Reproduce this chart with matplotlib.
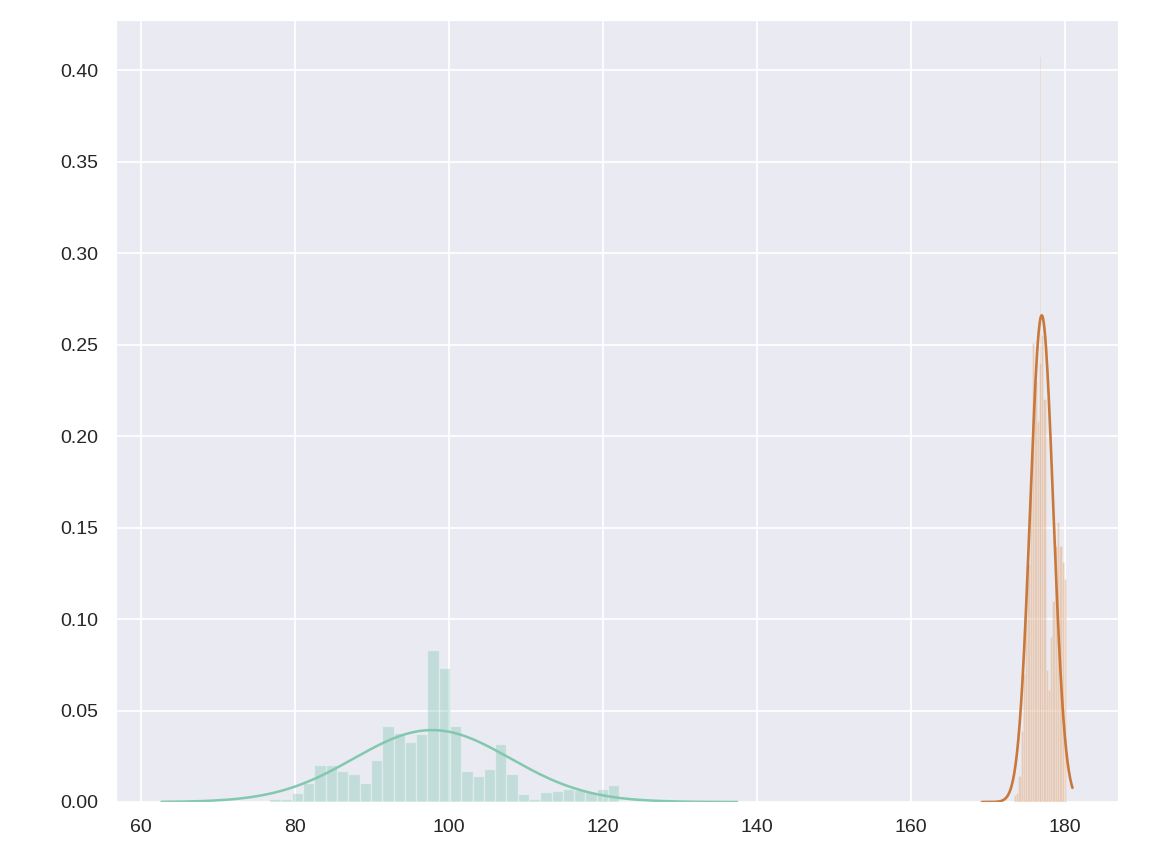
import numpy as np
import matplotlib
matplotlib.use("Agg")
import matplotlib.pyplot as plt
import seaborn as sns

# ---------------- data ----------------
# green histogram (density), uniform bins
green_bin_start = 76.66
green_bin_width = 1.466
green_density = [0.0015, 0.0018, 0.0051, 0.0102, 0.0200, 0.0200, 0.0171, 0.0151,
                 0.0102, 0.0230, 0.0415, 0.0375, 0.0328, 0.0370, 0.0830, 0.0730,
                 0.0415, 0.0171, 0.0142, 0.0180, 0.0317, 0.0151, 0.0044, 0.0015,
                 0.0053, 0.0062, 0.0073, 0.0066, 0.0056, 0.0073, 0.0093, 0.0006,
                 0.0005, 0.0000, 0.0015, 0.0015]
# green fitted normal curve
green_mean, green_std = 97.8, 10.15
green_support = (62.66, 137.4)

# orange histogram (density), uniform bins
orange_bin_start = 173.35
orange_bin_width = 0.295
orange_density = [0.004, 0.005, 0.014, 0.039, 0.070, 0.100, 0.130, 0.170,
                  0.251, 0.230, 0.208, 0.240, 0.255, 0.220, 0.072, 0.061,
                  0.090, 0.110, 0.140, 0.153, 0.140, 0.131, 0.122]
# narrow spike bin
orange_spike_x = [176.80]
orange_spike_width = 0.06
orange_spike_density = [0.407]
# orange fitted normal curve
orange_mean, orange_std = 176.97, 1.50
orange_support = (169.2, 180.96)

# ---------------- style ----------------
sns.set_style("darkgrid")
plt.rcParams['font.family'] = ['Liberation Sans', 'DejaVu Sans']

green_line = "#82c8ae"
green_fill = "#6fbfa6"
orange_line = "#c9783b"
orange_fill = "#dc9a64"

fig = plt.figure(figsize=(11.64, 8.52), dpi=100)
ax = fig.add_axes([116 / 1164, 50 / 852, 1002 / 1164, 782 / 852])


def norm_pdf(x, m, s):
    return np.exp(-0.5 * ((x - m) / s) ** 2) / (s * np.sqrt(2 * np.pi))


# green histogram
g_left = green_bin_start + green_bin_width * np.arange(len(green_density))
ax.bar(g_left, green_density, width=green_bin_width, align='edge',
       color=green_fill, alpha=0.32, edgecolor='white', linewidth=1.0)

# orange histogram
o_left = orange_bin_start + orange_bin_width * np.arange(len(orange_density))
ax.bar(o_left, orange_density, width=orange_bin_width, align='edge',
       color=orange_fill, alpha=0.4, edgecolor='#f8eee6', linewidth=0.45)
ax.bar(orange_spike_x, orange_spike_density, width=orange_spike_width,
       align='center', color=orange_fill, alpha=0.15, linewidth=0)

# fitted curves
xg = np.linspace(green_support[0], green_support[1], 200)
ax.plot(xg, norm_pdf(xg, green_mean, green_std), color=green_line, lw=1.8)
xo = np.linspace(orange_support[0], orange_support[1], 200)
ax.plot(xo, norm_pdf(xo, orange_mean, orange_std), color=orange_line, lw=1.9)

ax.set_ylim(bottom=0)
ax.set_xticks([60, 80, 100, 120, 140, 160, 180])
ax.set_yticks(np.arange(0, 0.41, 0.05))
ax.yaxis.set_major_formatter(matplotlib.ticker.FormatStrFormatter('%.2f'))
ax.tick_params(axis='both', labelsize=14, colors='#262626', length=0)
ax.tick_params(axis='y', pad=13)
ax.tick_params(axis='x', pad=12)
ax.grid(True, color='white', linewidth=1.3)

fig.savefig("out.png", dpi=100)
